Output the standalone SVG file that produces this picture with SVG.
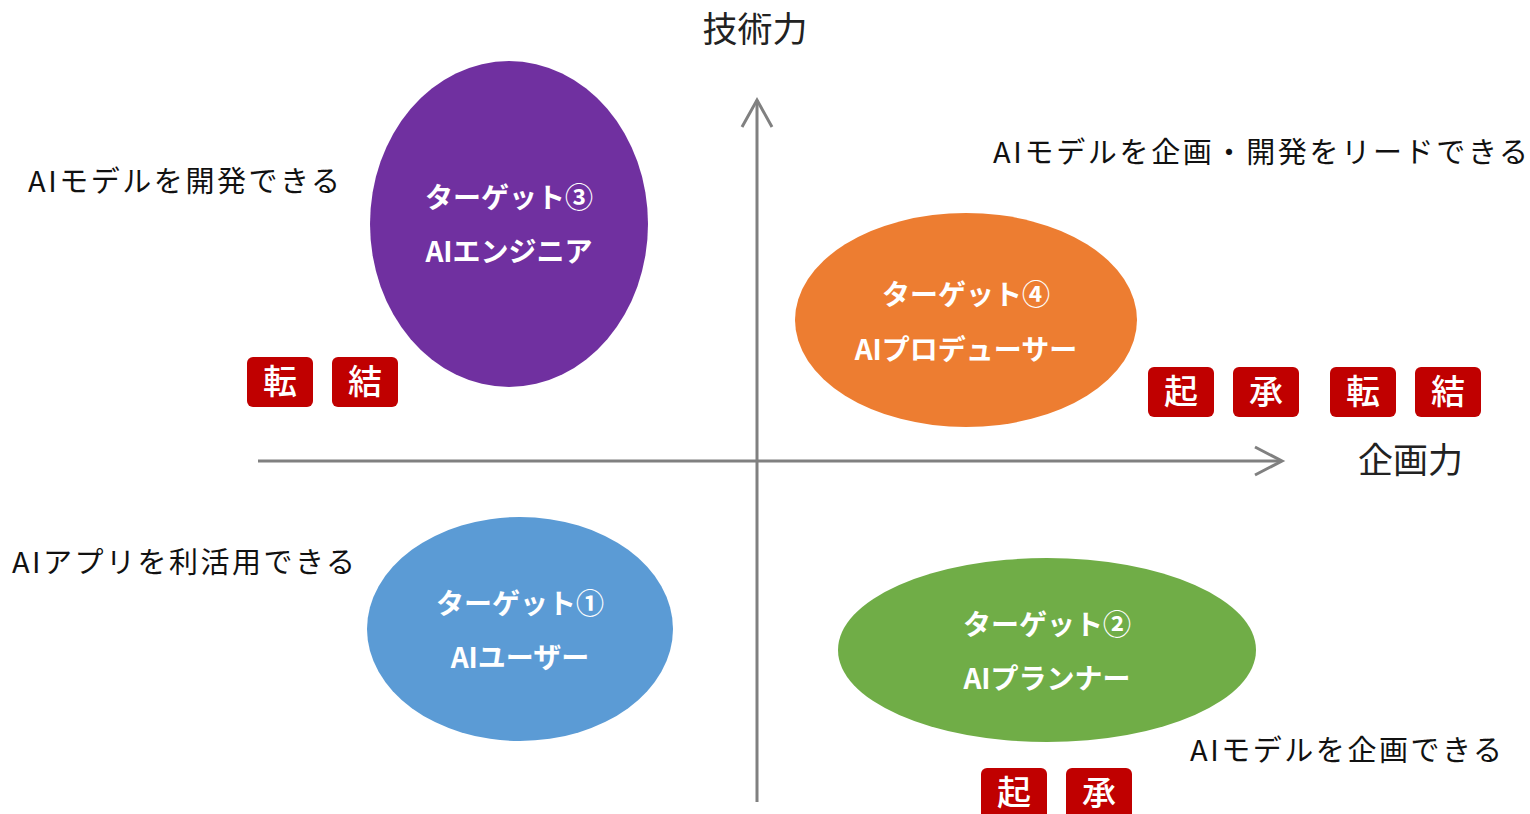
<svg xmlns="http://www.w3.org/2000/svg" width="1530" height="814" viewBox="0 0 1530 814">
<style>
.lbl{font-family:"Noto Sans CJK JP","Noto Sans",sans-serif;fill:#111;font-size:29px}
.ax{font-family:"Noto Sans CJK JP","Noto Sans",sans-serif;fill:#222;font-size:35px}
.nt{font-family:"Noto Sans CJK JP","Noto Sans",sans-serif;fill:#fff;font-size:28px;font-weight:bold;text-anchor:middle}
.bd{fill:#C00000}
.bt{font-family:"Noto Sans CJK JP","Noto Sans",sans-serif;fill:#fff;font-size:34px;font-weight:500;text-anchor:middle}
.axis{stroke:#808080;stroke-width:3;fill:none}
</style>
<rect width="1530" height="814" fill="#fff"/>
<g id="connectors">
<line class="axis" x1="757" y1="100" x2="757" y2="802"/>
<polyline class="axis" points="742,127 757,100 772,127"/>
<line class="axis" x1="258" y1="461" x2="1281" y2="461"/>
<polyline class="axis" points="1255,447 1282,461 1255,475"/>
</g>
<text class="ax" x="755" y="42" text-anchor="middle">技術力</text>
<text class="ax" x="1358" y="473">企画力</text>
<text class="lbl" x="28" y="192" textLength="312" lengthAdjust="spacing">AIモデルを開発できる</text>
<text class="lbl" x="993" y="163" textLength="535" lengthAdjust="spacing">AIモデルを企画・開発をリードできる</text>
<text class="lbl" x="12" y="573" textLength="343" lengthAdjust="spacing">AIアプリを利活用できる</text>
<text class="lbl" x="1190" y="761" textLength="312" lengthAdjust="spacing">AIモデルを企画できる</text>
<g id="node3">
<ellipse cx="509" cy="224" rx="139" ry="163" fill="#7030A0"/>
<text class="nt" x="509" y="208">ターゲット③</text>
<text class="nt" x="509" y="262">AIエンジニア</text>
</g>
<g id="node4">
<ellipse cx="966" cy="320" rx="171" ry="107" fill="#ED7D31"/>
<text class="nt" x="966" y="305">ターゲット④</text>
<text class="nt" x="966" y="360">AIプロデューサー</text>
</g>
<g id="node1">
<ellipse cx="520" cy="629" rx="153" ry="112" fill="#5B9BD5"/>
<text class="nt" x="520" y="614">ターゲット①</text>
<text class="nt" x="520" y="668">AIユーザー</text>
</g>
<g id="node2">
<ellipse cx="1047" cy="650" rx="209" ry="92" fill="#70AD47"/>
<text class="nt" x="1047" y="635">ターゲット②</text>
<text class="nt" x="1047" y="689">AIプランナー</text>
</g>
<g id="badges-left">
<rect class="bd" x="247" y="357" width="66" height="50" rx="6"/>
<text class="bt" x="280" y="394">転</text>
<rect class="bd" x="332" y="357" width="66" height="50" rx="6"/>
<text class="bt" x="365" y="394">結</text>
</g>
<g id="badges-right">
<rect class="bd" x="1148" y="367" width="66" height="50" rx="6"/>
<text class="bt" x="1181" y="404">起</text>
<rect class="bd" x="1233" y="367" width="66" height="50" rx="6"/>
<text class="bt" x="1266" y="404">承</text>
<rect class="bd" x="1330" y="367" width="66" height="50" rx="6"/>
<text class="bt" x="1363" y="404">転</text>
<rect class="bd" x="1415" y="367" width="66" height="50" rx="6"/>
<text class="bt" x="1448" y="404">結</text>
</g>
<g id="badges-bottom">
<rect class="bd" x="981" y="768" width="66" height="52" rx="6"/>
<text class="bt" x="1014" y="805">起</text>
<rect class="bd" x="1066" y="768" width="66" height="52" rx="6"/>
<text class="bt" x="1099" y="805">承</text>
</g>
</svg>
